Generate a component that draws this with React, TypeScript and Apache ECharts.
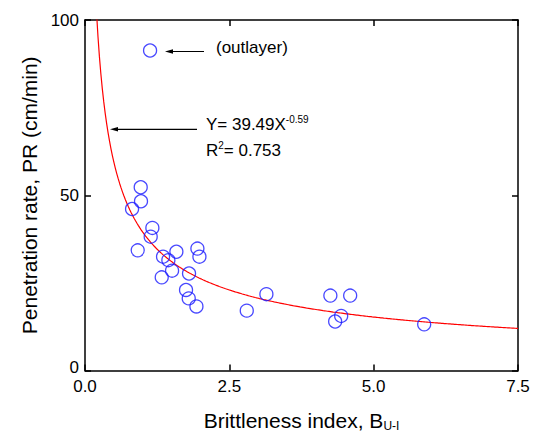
import React, { useEffect, useRef } from "react";
import * as echarts from "echarts";

// Measured points: Brittleness index (x) and Penetration rate (y)
const brittleness = [1.127, 0.965, 0.97, 0.815, 1.167, 1.138, 0.913, 1.352, 1.444, 1.583, 1.947, 1.982, 1.508, 1.329, 1.802, 1.75, 1.797, 1.93, 2.802, 3.142, 4.25, 4.593, 4.437, 4.333, 5.875];
const penetration = [91.3, 52.3, 48.3, 46.1, 40.7, 38.2, 34.3, 32.5, 31.5, 33.9, 34.8, 32.5, 28.5, 26.6, 27.7, 23.0, 20.6, 18.3, 17.1, 21.8, 21.4, 21.4, 15.6, 14.0, 13.2];

// Regression stated on the chart: Y = 39.49 X^-0.59
const fitCoef = 39.49;
const fitExp = -0.59;
const fitXStart = 0.2;
const fitXEnd = 7.5;
const fitStep = 0.025;

const xTicks = ["0.0", "2.5", "5.0", "7.5"];
const yTicks = ["0", "50", "100"];

const FONT = "'Liberation Sans', Arial, Helvetica, sans-serif";

export default function App() {
  const ref = useRef<HTMLDivElement>(null);
  useEffect(() => {
    if (!ref.current) return;
    const chart = echarts.init(ref.current, undefined, { renderer: "svg" });
    const scatterData = brittleness.map((x, i) => [x, penetration[i]]);
    const fitData: number[][] = [];
    for (let x = fitXStart; x <= fitXEnd + 1e-9; x += fitStep) {
      fitData.push([x, fitCoef * Math.pow(x, fitExp)]);
    }
    const axisLine = { show: true, onZero: false, lineStyle: { color: "#000", width: 1.5 } };
    const tick = { show: true, inside: true, length: 6, lineStyle: { color: "#000", width: 1.5 } };
    chart.setOption({
      animation: false,
      backgroundColor: "#fff",
      grid: { left: 85, right: 20, top: 20, bottom: 64, containLabel: false },
      xAxis: [
        {
          type: "value",
          min: 0,
          max: 7.5,
          interval: 2.5,
          position: "bottom",
          axisLine,
          axisTick: tick,
          splitLine: { show: false },
          axisLabel: {
            fontFamily: FONT,
            fontSize: 17,
            lineHeight: 14,
            color: "#000",
            margin: 9,
            formatter: (v: number) => xTicks[Math.round(v / 2.5)] ?? v.toFixed(1),
          },
          name: "Brittleness index, B{s|U-I}",
          nameLocation: "middle",
          nameGap: 30,
          nameTextStyle: {
            fontFamily: FONT,
            fontSize: 21,
            color: "#000",
            lineHeight: 24,
            rich: {
              s: { fontFamily: FONT, fontSize: 12, lineHeight: 12, color: "#000", verticalAlign: "bottom", padding: [20, 0, 0, 0] },
            },
          },
        },
        {
          type: "value",
          min: 0,
          max: 7.5,
          interval: 2.5,
          position: "top",
          axisLine,
          axisTick: tick,
          axisLabel: { show: false },
          splitLine: { show: false },
        },
      ],
      yAxis: [
        {
          type: "value",
          min: 0,
          max: 100,
          interval: 50,
          position: "left",
          axisLine,
          axisTick: tick,
          splitLine: { show: false },
          axisLabel: {
            fontFamily: FONT,
            fontSize: 17,
            lineHeight: 14,
            color: "#000",
            margin: 6,
            formatter: (v: number) => {
              const t = yTicks[Math.round(v / 50)] ?? String(v);
              return v === 0 ? "{z|" + t + "}" : t;
            },
            rich: {
              z: { fontFamily: FONT, fontSize: 17, lineHeight: 14, color: "#000", padding: [0, 0, 7, 0] },
            },
          },
          name: "Penetration rate, PR (cm/min)",
          nameLocation: "middle",
          nameGap: 41,
          nameTextStyle: { fontFamily: FONT, fontSize: 21, color: "#000" },
        },
        {
          type: "value",
          min: 0,
          max: 100,
          interval: 50,
          position: "right",
          axisLine,
          axisTick: tick,
          axisLabel: { show: false },
          splitLine: { show: false },
        },
      ],
      series: [
        {
          type: "line",
          data: fitData,
          showSymbol: false,
          symbol: "none",
          clip: true,
          lineStyle: { color: "#ff0000", width: 1.2 },
          z: 1,
        },
        {
          type: "scatter",
          data: scatterData,
          symbol: "circle",
          symbolSize: 13,
          itemStyle: { color: "rgba(0,0,0,0)", borderColor: "#1a1aff", borderWidth: 1.3 },
          z: 2,
        },
      ],
      graphic: [
        { type: "line", shape: { x1: 204, y1: 51.5, x2: 170, y2: 51.5 }, style: { stroke: "#000", lineWidth: 1.2 } },
        { type: "polygon", shape: { points: [[165, 51.5], [173, 49.3], [173, 53.7]] }, style: { fill: "#000" } },
        { type: "line", shape: { x1: 197, y1: 129.3, x2: 116, y2: 129.3 }, style: { stroke: "#000", lineWidth: 1.2 } },
        { type: "polygon", shape: { points: [[110, 129.3], [118, 127.1], [118, 131.5]] }, style: { fill: "#000" } },
        {
          type: "text",
          x: 216,
          y: 47.5,
          style: { text: "(outlayer)", fontFamily: FONT, fontSize: 17, fill: "#000", verticalAlign: "middle", align: "left" },
        },
        {
          type: "text",
          x: 206,
          y: 124,
          style: {
            text: "Y= 39.49X{p|-0.59}",
            fontFamily: FONT,
            fontSize: 17,
            lineHeight: 20,
            fill: "#000",
            verticalAlign: "middle",
            align: "left",
            rich: { p: { fontFamily: FONT, fontSize: 10, lineHeight: 10, fill: "#000", verticalAlign: "top" } },
          },
        },
        {
          type: "text",
          x: 206,
          y: 150,
          style: {
            text: "R{p|2}= 0.753",
            fontFamily: FONT,
            fontSize: 17,
            lineHeight: 20,
            fill: "#000",
            verticalAlign: "middle",
            align: "left",
            rich: { p: { fontFamily: FONT, fontSize: 10, lineHeight: 10, fill: "#000", verticalAlign: "top" } },
          },
        },
      ],
    });
    return () => chart.dispose();
  }, []);
  return <div ref={ref} style={{ width: 538, height: 437, position: "absolute", left: 0, top: 0 }} />;
}
